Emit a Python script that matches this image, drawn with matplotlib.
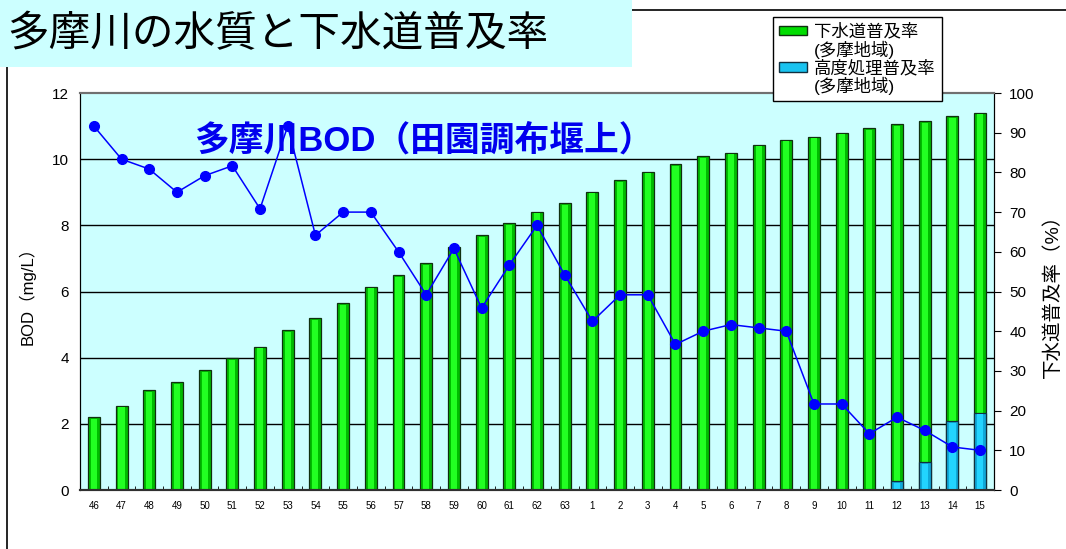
import matplotlib
matplotlib.use('Agg')
import matplotlib.pyplot as plt
import numpy as np
from matplotlib.patches import Rectangle
from matplotlib.lines import Line2D

plt.rcParams['font.family'] = ['Liberation Sans', 'Noto Sans CJK JP', 'DejaVu Sans']

# 年度 (昭和46〜63, 平成1〜15)
years = ['46', '47', '48', '49', '50', '51', '52', '53', '54', '55', '56', '57', '58', '59', '60',
         '61', '62', '63', '1', '2', '3', '4', '5', '6', '7', '8', '9', '10', '11', '12', '13', '14', '15']
# 下水道普及率 (多摩地域) %
sewer = [18.3, 21.2, 25.1, 27.2, 30.2, 33.2, 36.1, 40.2, 43.2, 47.0, 51.2, 54.1, 57.2, 61.2, 64.2,
         67.2, 70.1, 72.2, 75.1, 78.1, 80.2, 82.0, 84.1, 85.0, 87.0, 88.2, 89.0, 90.0, 91.1, 92.1,
         92.9, 94.1, 95.0]
# 高度処理普及率 (多摩地域) %
advanced = [0, 0, 0, 0, 0, 0, 0, 0, 0, 0, 0, 0, 0, 0, 0,
            0, 0, 0, 0, 0, 0, 0, 0, 0, 0, 0, 0, 0, 0, 2.2,
            7.0, 17.3, 19.5]
# 多摩川BOD (田園調布堰上) mg/L
bod = [11.0, 10.0, 9.7, 9.0, 9.5, 9.8, 8.5, 11.0, 7.7, 8.4, 8.4, 7.2, 5.9, 7.3, 5.5,
       6.8, 8.0, 6.5, 5.1, 5.9, 5.9, 4.4, 4.8, 5.0, 4.9, 4.8, 2.6, 2.6, 1.7, 2.2,
       1.8, 1.3, 1.2]

x = np.arange(len(years))
bg = '#CCFFFF'

fig = plt.figure(figsize=(10.66, 5.49), dpi=100)

# 外枠
fig.add_artist(Line2D([7 / 1066, 7 / 1066, 1.0], [0.0, 1 - 10 / 549, 1 - 10 / 549],
                      transform=fig.transFigure, color='black', lw=1.2, zorder=1))
# タイトル
fig.add_artist(Rectangle((0, 1 - 67 / 549), 632 / 1066, 67 / 549, transform=fig.transFigure,
                         facecolor=bg, edgecolor='none', zorder=2))
fig.text(7 / 1066, 1 - 35 / 549, '多摩川の水質と下水道普及率', fontsize=30,
         va='center', ha='left', zorder=3)

axr = fig.add_axes([80 / 1066, 59 / 549, 914 / 1066, 397 / 549])
ax = axr.twinx()
ax.set_zorder(axr.get_zorder() + 1)
ax.patch.set_visible(False)
axr.set_facecolor(bg)

# 下水道普及率 の棒 (中央を明るくして立体風に)
axr.bar(x, sewer, width=0.43, color='#00BB00', edgecolor='#103010', linewidth=0.9, zorder=2)
axr.bar(x, np.array(sewer) - 0.4, width=0.22, color='#22FF22', edgecolor='none', zorder=2.5)
axr.bar(x, advanced, width=0.43, color='#10A8D8', edgecolor='#103040', linewidth=0.9, zorder=3)
adv = np.array(advanced)
axr.bar(x, np.where(adv > 0, adv - 0.4, 0), width=0.22, color='#22D4FF', edgecolor='none', zorder=3.5)
for v in range(2, 12, 2):
    axr.axhline(v * 100 / 12, color='black', lw=1, zorder=1)

axr.set_ylim(0, 100)
axr.set_xlim(-0.5, len(years) - 0.5)
axr.yaxis.tick_right()
axr.yaxis.set_label_position('right')
axr.set_yticks(np.arange(0, 101, 10))
axr.tick_params(axis='y', labelsize=11, length=5, direction='out', pad=6)
axr.set_ylabel('下水道普及率（%）', fontsize=14, labelpad=6)

axr.set_xticks(x)
axr.set_xticklabels(years, fontsize=7)
axr.set_xticks(x[:-1] + 0.5, minor=True)
axr.tick_params(axis='x', which='major', length=0, pad=8)
axr.tick_params(axis='x', which='minor', length=3, direction='in')

# BOD の折れ線
ax.plot(x, bod, color='#0000FF', lw=1.1, marker='o', markersize=7, zorder=5)
ax.set_ylim(0, 12)
ax.yaxis.tick_left()
ax.yaxis.set_label_position('left')
ax.set_yticks(np.arange(0, 13, 2))
ax.tick_params(axis='y', labelsize=11, length=0, pad=8)
ax.set_ylabel('BOD（mg/L）', fontsize=12, labelpad=12)
ax.text(11.9, 10.55, '多摩川BOD（田園調布堰上）', fontsize=25, fontweight='bold',
        color='#0000EE', ha='center', va='center', zorder=6)

for a in (ax, axr):
    a.spines['top'].set_color('#707070')
    a.spines['top'].set_linewidth(1.5)
    a.spines['bottom'].set_linewidth(1.5)
    a.spines['bottom'].set_color('#303030')

# 凡例
h_sewer = Rectangle((0, 0), 1, 1, facecolor='#00DD00', edgecolor='#103010')
h_adv = Rectangle((0, 0), 1, 1, facecolor='#19C3F0', edgecolor='#103040')
h_none = Rectangle((0, 0), 1, 1, facecolor='none', edgecolor='none')
leg = fig.legend([h_sewer, h_none, h_adv, h_none],
                 ['下水道普及率', '(多摩地域)', '高度処理普及率', '(多摩地域)'],
                 loc='upper left', bbox_to_anchor=(773 / 1066, 1 - 17 / 549),
                 fontsize=12.5, frameon=True, fancybox=False, framealpha=1,
                 edgecolor='black', handlelength=1.6, handleheight=0.5,
                 labelspacing=0.05, handletextpad=0.4, borderpad=0.35, borderaxespad=0)
leg.get_frame().set_linewidth(1)
leg.set_zorder(10)

fig.savefig('out.png', dpi=100)
